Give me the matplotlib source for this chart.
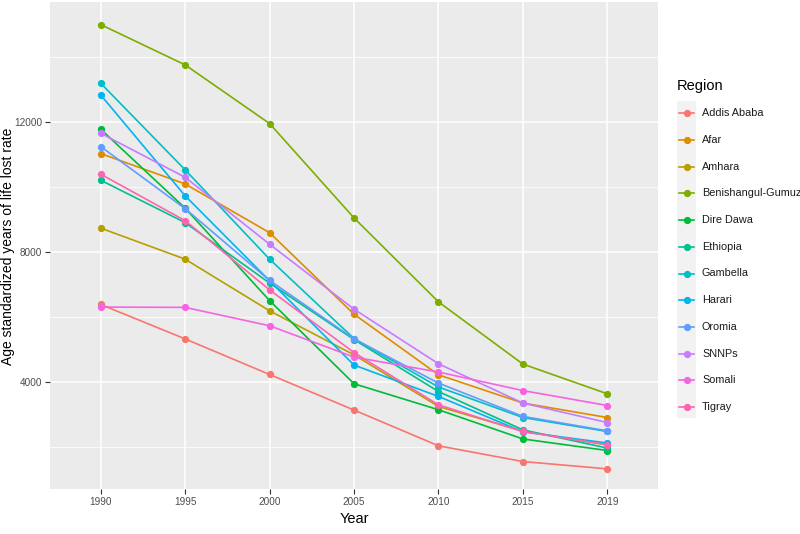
import matplotlib
matplotlib.use("Agg")
import matplotlib.pyplot as plt
from matplotlib.lines import Line2D
from matplotlib.patches import Rectangle

years = ["1990", "1995", "2000", "2005", "2010", "2015", "2019"]

regions = ["Addis Ababa", "Afar", "Amhara", "Benishangul-Gumuz", "Dire Dawa",
           "Ethiopia", "Gambella", "Harari", "Oromia", "SNNPs", "Somali", "Tigray"]

addis_ababa = [6380, 5320, 4225, 3130, 2030, 1545, 1320]
afar = [11025, 10090, 8590, 6080, 4215, 3345, 2900]
amhara = [8730, 7775, 6185, 4830, 3240, 2480, 2060]
benishangul = [14995, 13755, 11950, 9045, 6460, 4545, 3630]
dire_dawa = [11775, 9345, 6500, 3940, 3140, 2240, 1885]
ethiopia = [10205, 8900, 7040, 5300, 3700, 2520, 1960]
gambella = [13190, 10525, 7775, 5330, 3840, 2900, 2470]
harari = [12830, 9725, 7110, 4515, 3550, 2460, 2115]
oromia = [11240, 9330, 7120, 5320, 3960, 2935, 2490]
snnps = [11650, 10295, 8235, 6235, 4555, 3345, 2745]
somali = [6300, 6290, 5725, 4760, 4300, 3730, 3270]
tigray = [10390, 8960, 6830, 4900, 3290, 2470, 2060]

series = [addis_ababa, afar, amhara, benishangul, dire_dawa, ethiopia,
          gambella, harari, oromia, snnps, somali, tigray]

colors = ["#F8766D", "#DE8C00", "#B79F00", "#7CAE00", "#00BA38", "#00C08B",
          "#00BFC4", "#00B4F0", "#619CFF", "#C77CFF", "#F564E3", "#FF64B0"]

plt.rcParams["font.family"] = ["Liberation Sans", "DejaVu Sans"]

W, H = 800, 534
fig = plt.figure(figsize=(W / 100, H / 100), dpi=100)
ax = fig.add_axes([50 / W, (H - 489) / H, 608 / W, 487 / H])
ax.set_facecolor("#EBEBEB")

for vals, col in zip(series, colors):
    ax.plot(years, vals, color=col, lw=1.2, marker="o", ms=4.2, mec=col, zorder=3)

ax.set_xlim(-0.6, 6.6)
ax.set_ylim(700, 15690)
ax.set_yticks([4000, 8000, 12000])
ax.set_yticks([2000, 6000, 10000, 14000], minor=True)
ax.grid(True, which="major", color="white", lw=1.1)
ax.grid(True, which="minor", axis="y", color="white", lw=0.55)
ax.set_axisbelow(True)
for s in ax.spines.values():
    s.set_visible(False)
ax.tick_params(which="major", length=3.5, color="#333333", labelcolor="#4D4D4D",
               labelsize=7.2, width=0.8, pad=2)
ax.tick_params(which="minor", length=0)
ax.set_xlabel("Year", fontsize=10.5, labelpad=4)
fig.text(8.5 / W, 1 - 246 / H, "Age standardized years of life lost rate",
         fontsize=10, rotation=90, ha="center", va="center")

# legend drawn in figure pixels
fig.text(677 / W, 1 - 86 / H, "Region", fontsize=10.5, va="center", ha="left")
fig.patches.append(Rectangle((677 / W, 1 - 418 / H), 19 / W, 317 / H,
                             transform=fig.transFigure, facecolor="#F2F2F2",
                             edgecolor="none"))
for i, (name, col) in enumerate(zip(regions, colors)):
    y = 1 - (113.3 + i * 26.7) / H
    fig.lines.append(Line2D([679 / W, 694 / W], [y, y], transform=fig.transFigure,
                            color=col, lw=1.2))
    fig.lines.append(Line2D([686.5 / W], [y], transform=fig.transFigure,
                            color=col, marker="o", ms=4.2))
    fig.text(702 / W, y, name, fontsize=7.8, va="center", ha="left", color="#1A1A1A")

fig.savefig("out.png", dpi=100)
